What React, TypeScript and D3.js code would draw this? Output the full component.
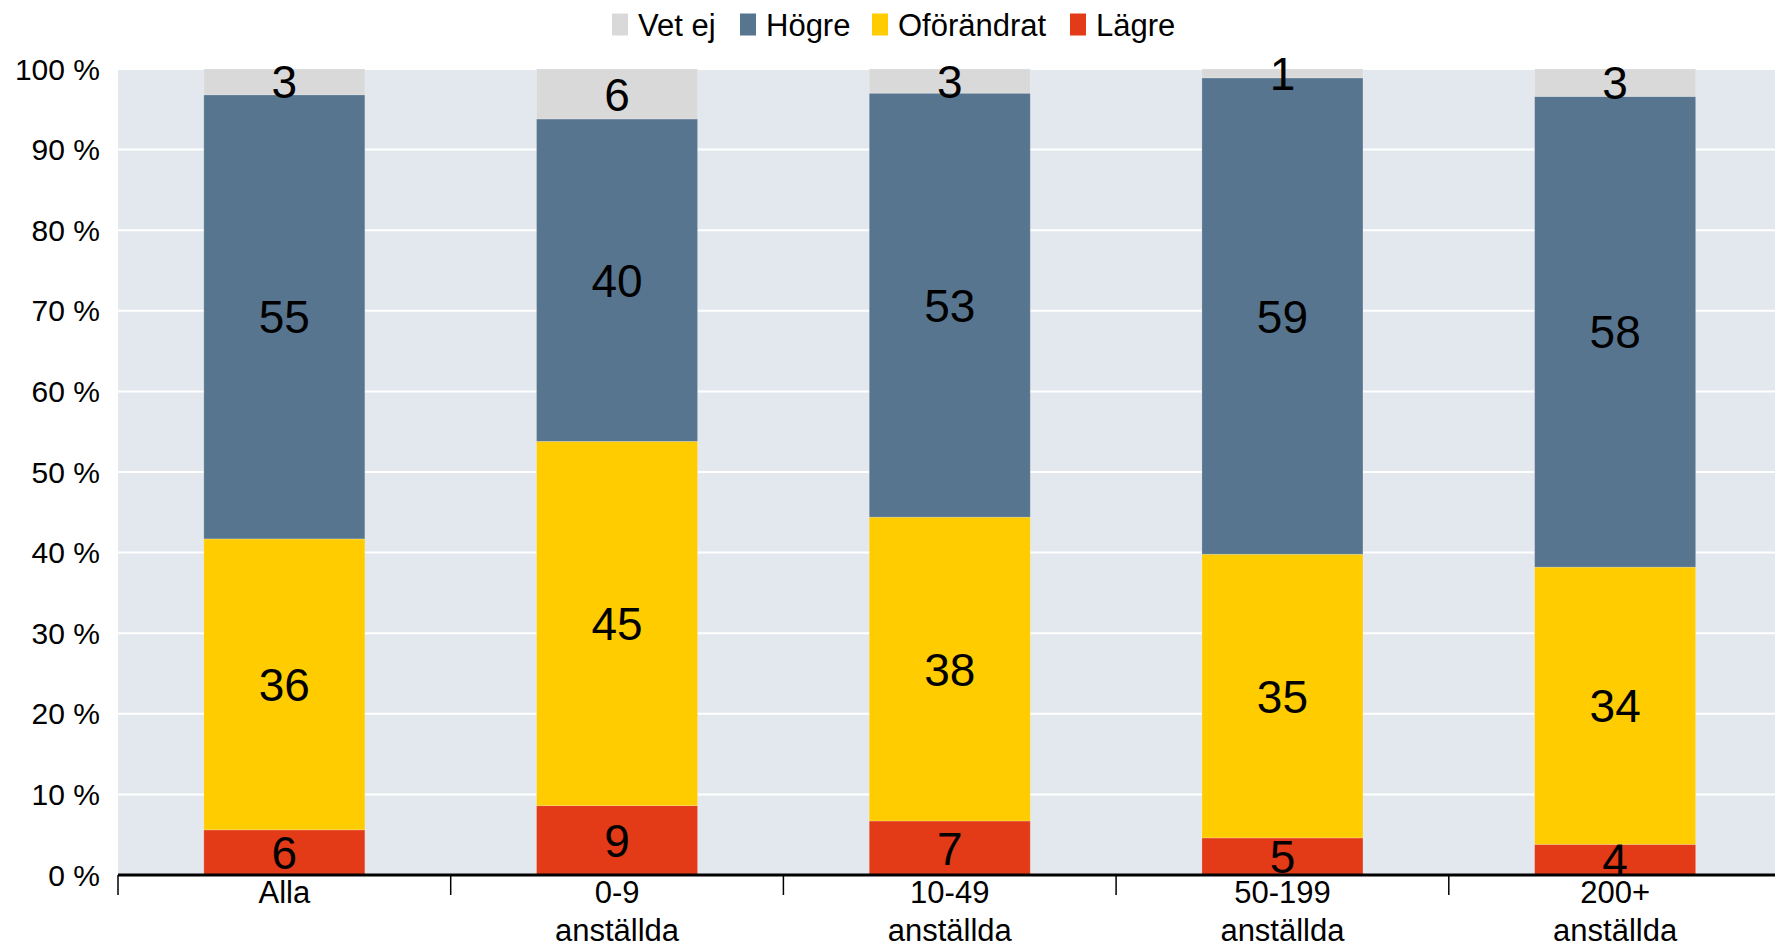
import React from "react";
import * as d3 from "d3";

const categories = ["Alla", "0-9\nanställda", "10-49\nanställda", "50-199\nanställda", "200+\nanställda"];
const seriesNames = ["Lägre", "Oförändrat", "Högre", "Vet ej"];
const lagre = [5.6, 8.6, 6.7, 4.6, 3.8];
const oforandrat = [36.1, 45.2, 37.7, 35.2, 34.4];
const hogre = [55.1, 40.0, 52.6, 59.1, 58.4];
const vetej = [3.2, 6.2, 3.0, 1.1, 3.4];
const yTicks = [0, 10, 20, 30, 40, 50, 60, 70, 80, 90, 100];
const legendOrder = ["Vet ej", "Högre", "Oförändrat", "Lägre"];

const colors: Record<string, string> = {
  "Lägre": "#e33a17",
  "Oförändrat": "#ffcc00",
  "Högre": "#57758f",
  "Vet ej": "#d9d9d9",
};

const W = 1775;
const H = 944;
const plotLeft = 118;
const plotTop = 69;
const plotBottom = 875;
const step = 332.7;
const FONT = "'Liberation Sans', Arial, sans-serif";

export default function App() {
  const x = d3.scaleBand<string>().domain(categories).range([plotLeft, plotLeft + step * categories.length]).padding(0);
  const y = d3.scaleLinear().domain([0, 100]).range([plotBottom, plotTop]);
  const barW = x.bandwidth() * 0.484;

  const rows = categories.map((c, i) => ({
    cat: c,
    "Lägre": lagre[i],
    "Oförändrat": oforandrat[i],
    "Högre": hogre[i],
    "Vet ej": vetej[i],
  }));
  const stacked = d3.stack<any>().keys(seriesNames)(rows);

  // legend layout
  const legendWidths: Record<string, number> = { "Vet ej": 80, "Högre": 84, "Oförändrat": 150, "Lägre": 80 };
  let lx = 612;
  const legendItems = legendOrder.map((n) => {
    const item = { name: n, x: lx };
    lx += 16 + 10 + legendWidths[n] + 22;
    return item;
  });

  return (
    <svg width={W} height={H} style={{ position: "absolute", left: 0, top: 0, background: "#fff" }} fontFamily={FONT}>
      <rect x={plotLeft} y={plotTop} width={W - plotLeft} height={plotBottom - plotTop} fill="#e3e8ef" />
      {yTicks.map((t) => (
        <g key={t}>
          {t > 0 && <line x1={plotLeft} x2={W} y1={y(t)} y2={y(t)} stroke="#ffffff" strokeWidth={2} />}
          <text x={100} y={y(t)} dy="0.35em" textAnchor="end" fontSize={30} fill="#000">
            {t} %
          </text>
        </g>
      ))}
      {stacked.map((s) => (
        <g key={s.key}>
          {s.map((d, i) => {
            const cx = (x(categories[i]) as number) + x.bandwidth() / 2;
            const y0 = y(d[0]);
            const y1 = y(d[1]);
            const val = d[1] - d[0];
            return (
              <g key={i}>
                <rect x={cx - barW / 2} y={y1} width={barW} height={y0 - y1} fill={colors[s.key]} stroke="rgba(255,255,255,0.25)" strokeWidth={0.8} />
                <text x={cx} y={(y0 + y1) / 2} dy="0.36em" textAnchor="middle" fontSize={46} fill="#000">
                  {Math.round(val)}
                </text>
              </g>
            );
          })}
        </g>
      ))}
      <line x1={plotLeft} x2={W} y1={plotBottom} y2={plotBottom} stroke="#000" strokeWidth={3} />
      {categories.map((c, i) => {
        const bx = x(c) as number;
        const cx = bx + x.bandwidth() / 2;
        const lines = c.split("\n");
        return (
          <g key={c}>
            <line x1={bx} x2={bx} y1={plotBottom} y2={895} stroke="#000" strokeWidth={1.5} />
            <text textAnchor="middle" fontSize={31} fill="#000">
              {lines.map((l, k) => (
                <tspan key={k} x={cx} y={903 + k * 37.5}>
                  {l}
                </tspan>
              ))}
            </text>
          </g>
        );
      })}
      {legendItems.map((it) => (
        <g key={it.name}>
          <rect x={it.x} y={13.5} width={16} height={22} fill={colors[it.name]} />
          <text x={it.x + 26} y={35.7} fontSize={31} fill="#000">
            {it.name}
          </text>
        </g>
      ))}
    </svg>
  );
}
